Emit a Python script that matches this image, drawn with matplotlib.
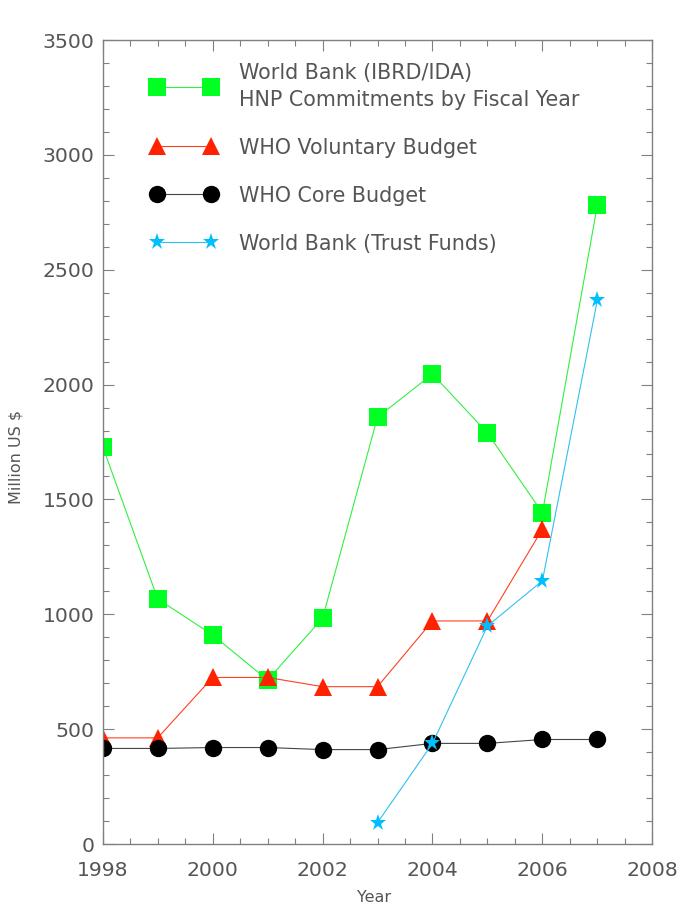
import numpy as np
import matplotlib
matplotlib.use("Agg")
from matplotlib import pyplot as plt
from matplotlib.ticker import MultipleLocator

# values (million US $)
years = [1998, 1999, 2000, 2001, 2002, 2003, 2004, 2005, 2006, 2007]
wb_hnp = [1730, 1067, 910, 714, 983, 1858, 2046, 1789, 1442, 2782]
who_vol_years = [1998, 1999, 2000, 2001, 2002, 2003, 2004, 2005, 2006]
who_vol = [462, 462, 725, 725, 685, 685, 971, 971, 1371]
who_core = [416, 416, 420, 420, 411, 411, 438, 438, 455, 455]
trust_years = [2003, 2004, 2005, 2006, 2007]
wb_trust = [93, 438, 949, 1146, 2368]

lab_hnp = "World Bank (IBRD/IDA)\nHNP Commitments by Fiscal Year"
lab_vol = "WHO Voluntary Budget"
lab_core = "WHO Core Budget"
lab_trust = "World Bank (Trust Funds)"

axis_col = "#808080"
text_col = "#555555"

plt.rcParams['font.family'] = ['DejaVu Sans']

fig = plt.figure(figsize=(6.82, 9.18), dpi=100)
ax = fig.add_axes([0.1506, 0.0806, 0.8059, 0.8758])

ax.plot(years, wb_hnp, color="#30f040", lw=0.8, marker="s", ms=12.5,
        mfc="#00ff22", mec="#00ff22", mew=0, label=lab_hnp)
ax.plot(who_vol_years, who_vol, color="#ff4020", lw=0.8, marker="^", ms=13,
        mfc="#ff2200", mec="#ff2200", mew=0, label=lab_vol)
ax.plot(years, who_core, color="#444444", lw=0.8, marker="o", ms=12.5,
        mfc="black", mec="black", mew=0, label=lab_core)
ax.plot(trust_years, wb_trust, color="#30c0f0", lw=0.8, marker="*", ms=12.5,
        mfc="#00bfff", mec="#00bfff", mew=0, label=lab_trust)

ax.set_xlim(1998, 2008)
ax.set_ylim(0, 3500)
ax.xaxis.set_major_locator(MultipleLocator(2))
ax.xaxis.set_minor_locator(MultipleLocator(0.5))
ax.yaxis.set_major_locator(MultipleLocator(500))
ax.yaxis.set_minor_locator(MultipleLocator(100))

ax.tick_params(which="both", direction="in", top=True, right=True,
               color=axis_col, width=0.8, labelcolor=text_col, labelsize=14.7)
ax.tick_params(which="major", length=8)
ax.tick_params(which="minor", length=4)
ax.tick_params(axis="x", pad=12)
ax.tick_params(axis="y", pad=6)
for s in ax.spines.values():
    s.set_color(axis_col)
    s.set_linewidth(1.0)

ax.set_xlabel("Year", fontsize=11.5, color=text_col)
ax.xaxis.set_label_coords(0.493, -0.057)
ax.set_ylabel("Million US $", fontsize=11.5, color=text_col)
ax.yaxis.set_label_coords(-0.145, 0.481)

leg = ax.legend(loc="upper left", bbox_to_anchor=(0.087, 0.972), frameon=False,
                numpoints=2, fontsize=14.9, handlelength=3.24, handletextpad=1.05,
                labelspacing=1.35, borderpad=0, borderaxespad=0)
for t in leg.get_texts():
    t.set_color(text_col)
    t.set_linespacing(1.45)

fig.savefig("out.png", dpi=100)
